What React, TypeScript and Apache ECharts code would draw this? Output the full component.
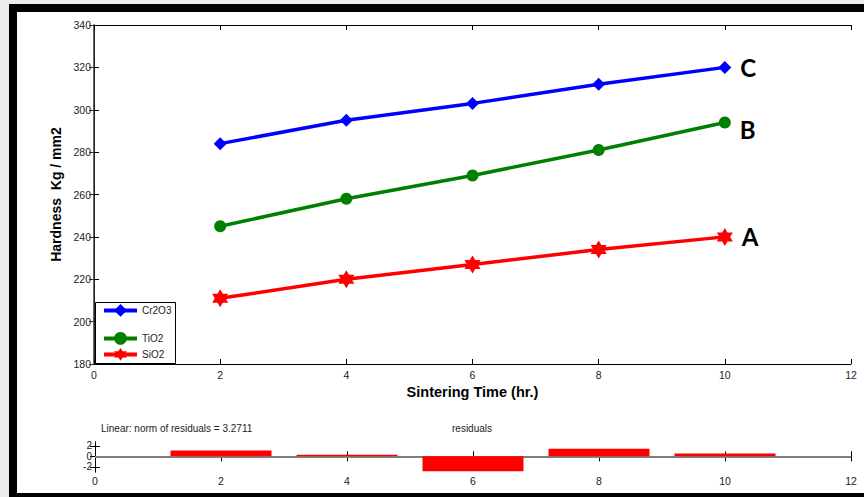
import React, { useEffect, useRef } from "react";
import * as echarts from "echarts";

const times = [2, 4, 6, 8, 10];
const cr2o3 = [284, 295, 303, 312, 320];
const tio2 = [245, 258, 269, 281, 294];
const sio2 = [211, 220, 227, 234, 240];
const residuals = [1.1, 0.3, -2.85, 1.45, 0.55];
const residualTicks = [-2, 0, 2];
const curveLabels = ["C", "B", "A"];
const seriesNames = ["Cr2O3", "TiO2", "SiO2"];

const FONT = "Liberation Sans";
const HEX = "path://M50,0L64.4,25L93.3,25L78.9,50L93.3,75L64.4,75L50,100L35.6,75L6.7,75L21.1,50L6.7,25L35.6,25Z";

function buildData(values: number[], label: string, offsetY: number) {
  return times.map((t, i) =>
    i === times.length - 1
      ? {
          value: [t, values[i]],
          label: {
            show: true,
            formatter: label,
            position: "right",
            distance: 9,
            offset: [0, offsetY],
            fontFamily: "Lato",
            fontWeight: "bold",
            fontSize: 24,
            color: "#000",
          },
        }
      : [t, values[i]]
  );
}

export default function App() {
  const ref = useRef<HTMLDivElement>(null);
  useEffect(() => {
    if (!ref.current) return;
    const chart = echarts.init(ref.current, null, { renderer: "svg" });
    const tickLabel = { fontFamily: FONT, fontSize: 10.5, color: "#222" };
    const axisLine = { lineStyle: { color: "#000", width: 1 } };
    const mirrorX = (gridIndex: number, pos: string) => ({
      type: "value",
      gridIndex,
      position: pos,
      min: 0,
      max: 12,
      interval: 2,
      axisLine: { show: true, ...axisLine },
      axisTick: { show: true, inside: true, length: 5, lineStyle: { color: "#000" } },
      axisLabel: { show: false },
      splitLine: { show: false },
    });
    const option: any = {
      animation: false,
      backgroundColor: "#fff",
      grid: [
        { left: 94, right: 13, top: 25, height: 339 },
        { left: 95, right: 13, top: 442, height: 30 },
      ],
      xAxis: [
        {
          ...mirrorX(0, "bottom"),
          axisLabel: { show: true, margin: 5, ...tickLabel },
          name: "Sintering Time (hr.)",
          nameLocation: "middle",
          nameGap: 17,
          nameTextStyle: { fontFamily: FONT, fontWeight: "bold", fontSize: 14.5, color: "#000" },
        },
        mirrorX(0, "top"),
        { ...mirrorX(1, "bottom"), axisLabel: { show: true, margin: 3, ...tickLabel } },
        mirrorX(1, "top"),
      ],
      yAxis: [
        {
          type: "value",
          gridIndex: 0,
          position: "left",
          min: 180,
          max: 340,
          interval: 20,
          axisLine: { show: true, ...axisLine },
          axisTick: { show: true, inside: true, length: 5, lineStyle: { color: "#000" } },
          axisLabel: { show: true, margin: 3, ...tickLabel },
          splitLine: { show: false },
          name: "Hardness  Kg / mm2",
          nameLocation: "middle",
          nameGap: 28,
          nameRotate: 90,
          nameTextStyle: { fontFamily: FONT, fontWeight: "bold", fontSize: 14, color: "#000" },
        },
        {
          type: "value",
          gridIndex: 0,
          position: "right",
          min: 180,
          max: 340,
          interval: 20,
          axisLine: { show: true, lineStyle: { color: "#333", width: 1.5 } },
          axisTick: { show: true, inside: true, length: 5, lineStyle: { color: "#333" } },
          axisLabel: { show: false },
          splitLine: { show: false },
        },
        {
          type: "value",
          gridIndex: 1,
          position: "left",
          min: -3,
          max: 2.75,
          axisLine: { show: true, ...axisLine },
          axisTick: { show: true, inside: true, length: 5, customValues: residualTicks, lineStyle: { color: "#000" } },
          axisLabel: {
            show: true,
            margin: 3,
            customValues: residualTicks,
            hideOverlap: false,
            showMinLabel: true,
            showMaxLabel: true,
            ...tickLabel,
            fontSize: 10,
            lineHeight: 9,
          },
          splitLine: { show: false },
        },
        {
          type: "value",
          gridIndex: 1,
          position: "right",
          min: -3,
          max: 2.75,
          axisLine: { show: true, ...axisLine },
          axisTick: { show: true, inside: true, length: 5, customValues: residualTicks, lineStyle: { color: "#000" } },
          axisLabel: { show: false },
          splitLine: { show: false },
        },
      ],
      legend: [0, 1, 2].map((i) => ({
        data: [seriesNames[i]],
        left: 102,
        top: [304, 332, 348][i],
        itemWidth: 33,
        itemHeight: 16,
        itemGap: 0,
        padding: 0,
        z: 6,
        lineStyle: { width: 4 },
        textStyle: { fontFamily: FONT, fontSize: 10, color: "#222" },
        selectedMode: false,
      })),
      series: [
        {
          name: seriesNames[0],
          type: "line",
          xAxisIndex: 0,
          yAxisIndex: 0,
          data: buildData(cr2o3, curveLabels[0], 0),
          symbol: "diamond",
          symbolSize: 13,
          lineStyle: { width: 3.5, color: "#0000ff" },
          itemStyle: { color: "#0000ff" },
        },
        {
          name: seriesNames[1],
          type: "line",
          xAxisIndex: 0,
          yAxisIndex: 0,
          data: buildData(tio2, curveLabels[1], 7),
          symbol: "circle",
          symbolSize: 12,
          lineStyle: { width: 3.5, color: "#008000" },
          itemStyle: { color: "#008000" },
        },
        {
          name: seriesNames[2],
          type: "line",
          xAxisIndex: 0,
          yAxisIndex: 0,
          data: buildData(sio2, curveLabels[2], 0),
          symbol: HEX,
          symbolSize: [16, 18],
          lineStyle: { width: 3.5, color: "#ff0000" },
          itemStyle: { color: "#ff0000" },
        },
        {
          name: "residuals",
          type: "bar",
          xAxisIndex: 2,
          yAxisIndex: 2,
          data: times.map((t, i) => [t, residuals[i]]),
          barWidth: 101,
          z: 3,
          itemStyle: { color: "#ff0000" },
          markLine: {
            z: 1,
            silent: true,
            symbol: "none",
            label: { show: false },
            lineStyle: { color: "#808080", width: 2, type: "solid" },
            data: [{ yAxis: 0 }],
          },
        },
      ],
      graphic: [
        { type: "rect", shape: { x: 0, y: 0, width: 864, height: 4 }, style: { fill: "#ececec" }, z: 10 },
        { type: "rect", shape: { x: 0, y: 0, width: 9, height: 497 }, style: { fill: "#ececec" }, z: 10 },
        { type: "rect", shape: { x: 9, y: 4, width: 855, height: 8 }, style: { fill: "#000" }, z: 10 },
        { type: "rect", shape: { x: 9, y: 4, width: 8, height: 493 }, style: { fill: "#000" }, z: 10 },
        { type: "rect", shape: { x: 9, y: 493, width: 855, height: 4 }, style: { fill: "#000" }, z: 10 },
        {
          type: "rect",
          shape: { x: 95.5, y: 302.5, width: 80, height: 61 },
          style: { fill: "#fff", stroke: "#000", lineWidth: 1 },
          z: 3,
        },
        {
          type: "text",
          x: 101,
          y: 428,
          style: {
            text: "Linear: norm of residuals = 3.2711",
            fontFamily: FONT,
            fontSize: 10,
            fill: "#222",
            verticalAlign: "middle",
          },
        },
        {
          type: "text",
          x: 472,
          y: 428,
          style: {
            text: "residuals",
            fontFamily: FONT,
            fontSize: 10,
            fill: "#222",
            align: "center",
            verticalAlign: "middle",
          },
        },
      ],
    };
    chart.setOption(option);
    return () => chart.dispose();
  }, []);
  return (
    <div
      ref={ref}
      style={{ position: "fixed", left: 0, top: 0, width: 864, height: 497 }}
    />
  );
}
